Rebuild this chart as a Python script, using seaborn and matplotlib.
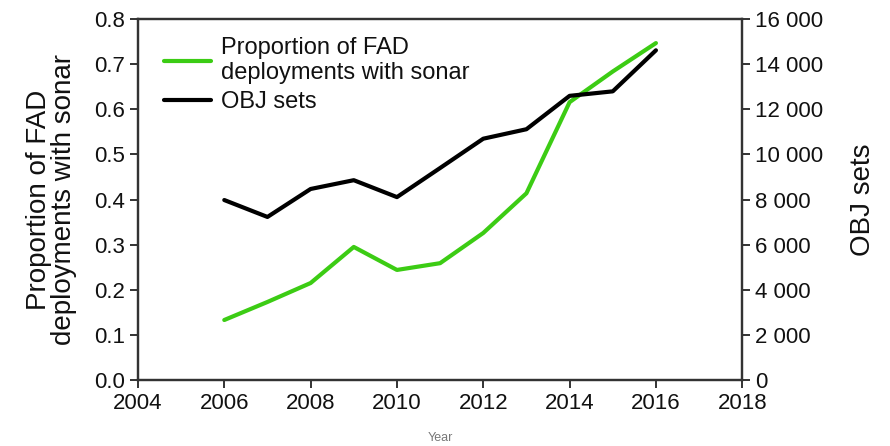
import numpy as np
import pandas as pd
import seaborn as sns
import matplotlib.pyplot as plt
from matplotlib.ticker import FuncFormatter

years = [2006, 2007, 2008, 2009, 2010, 2011, 2012, 2013, 2014, 2015, 2016]
sonar_prop = [0.133, 0.173, 0.215, 0.295, 0.244, 0.259, 0.326, 0.414, 0.616, 0.684, 0.747]
obj_sets = [7980, 7230, 8470, 8860, 8110, 9400, 10700, 11120, 12600, 12800, 14620]

df = pd.DataFrame({"Year": years, "sonar": sonar_prop, "obj": obj_sets})

sns.set_style("ticks")
plt.rcParams['font.family'] = ['Liberation Sans', 'DejaVu Sans']
plt.rcParams['text.color'] = "#111111"
plt.rcParams['axes.labelcolor'] = "#111111"

fig = plt.figure(figsize=(8.9, 4.46), dpi=100)
ax = fig.add_axes([0.155, 0.148, 0.679, 0.809])
ax2 = ax.twinx()

green = "#3ccc14"
sns.lineplot(data=df, x="Year", y="sonar", ax=ax, color=green, linewidth=3,
             label="Proportion of FAD\ndeployments with sonar", legend=False)
sns.lineplot(data=df, x="Year", y="obj", ax=ax2, color="black", linewidth=3,
             label="OBJ sets", legend=False)

ax.set_xlim(2004, 2018)
ax.set_xticks(range(2004, 2019, 2))
ax.set_ylim(0, 0.8)
ax.set_yticks(np.arange(0, 0.81, 0.1))
ax.yaxis.set_major_formatter(FuncFormatter(lambda v, p: "%.1f" % v))
ax2.set_ylim(0, 16000)
ax2.set_yticks(range(0, 16001, 2000))
ax2.yaxis.set_major_formatter(FuncFormatter(lambda v, p: "0" if v == 0 else "{:,.0f}".format(v).replace(",", " ")))

for a in (ax, ax2):
    for s in a.spines.values():
        s.set_linewidth(1.6)
        s.set_color("#333333")
    a.tick_params(labelsize=16, width=1.4, length=6, color="#333333",
                  labelcolor="#111111", direction="out")

ax.set_ylabel("Proportion of FAD\ndeployments with sonar", fontsize=20, labelpad=12, linespacing=0.95)
ax2.set_ylabel("OBJ sets", fontsize=20, labelpad=19)
ax.set_xlabel("Year", fontsize=9, color="#777777", labelpad=13)

h1, l1 = ax.get_legend_handles_labels()
h2, l2 = ax2.get_legend_handles_labels()
leg = ax.legend(h1 + h2, l1 + l2, loc="upper left", bbox_to_anchor=(0.02, 0.99),
                frameon=False, fontsize=17, handlelength=2.0, handletextpad=0.4,
                labelspacing=0.3, borderaxespad=0.2)
for line in leg.get_lines():
    line.set_linewidth(3)

fig.savefig("out.png", dpi=100)
